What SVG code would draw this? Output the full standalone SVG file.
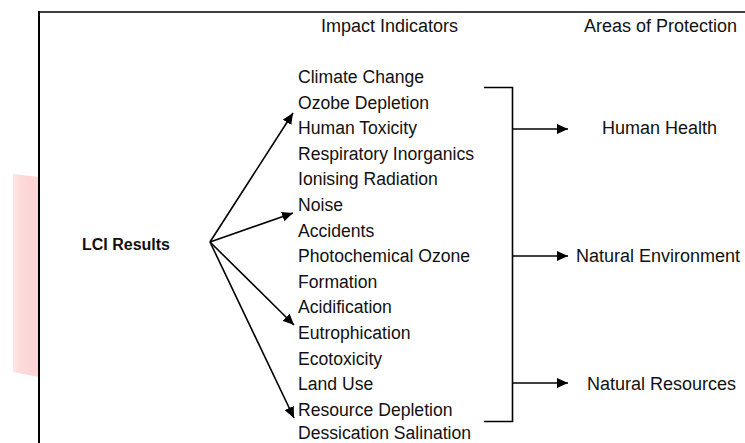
<svg xmlns="http://www.w3.org/2000/svg" width="745" height="443" viewBox="0 0 745 443">
  <style>
    .t { font-family: "Liberation Sans", Arial, sans-serif; font-size: 17.6px; fill: #111; }
    .h { font-size: 18px; }
    .b { font-weight: bold; font-size: 16px; }
    .ln { stroke: #000; stroke-width: 1.6; fill: none; }
    .ar { stroke: #000; stroke-width: 1.6; fill: none; marker-end: url(#ah); }
  </style>
  <defs>
    <marker id="ah" markerUnits="userSpaceOnUse" markerWidth="12" markerHeight="10" refX="11" refY="5" orient="auto">
      <path d="M0,0 L11,5 L0,10 z" fill="#000"/>
    </marker>
    <linearGradient id="pink" x1="0" y1="0" x2="1" y2="0">
      <stop offset="0" stop-color="#fde6e6"/>
      <stop offset="0.3" stop-color="#fdd9d9"/>
      <stop offset="1" stop-color="#fdd5d5"/>
    </linearGradient>
  </defs>

  <rect width="745" height="443" fill="#fff"/>
  <polygon points="13,174 39,177 39,377 13,372" fill="url(#pink)"/>

  <g id="frame">
    <line x1="39" y1="12" x2="745" y2="12" stroke="#000" stroke-width="1.6"/>
    <line x1="39" y1="11" x2="39" y2="443" stroke="#000" stroke-width="2"/>
  </g>

  <g id="header-impact"><text class="t h" x="321" y="32">Impact Indicators</text></g>
  <g id="header-areas"><text class="t h" x="584" y="32">Areas of Protection</text></g>

  <g id="lci-results"><text class="t b" x="82" y="250">LCI Results</text></g>

  <g id="impact-indicators">
    <text class="t" x="298" y="83">Climate Change</text>
    <text class="t" x="298" y="108.6">Ozobe Depletion</text>
    <text class="t" x="298" y="134.2">Human Toxicity</text>
    <text class="t" x="298" y="159.8">Respiratory Inorganics</text>
    <text class="t" x="298" y="185.4">Ionising Radiation</text>
    <text class="t" x="298" y="211">Noise</text>
    <text class="t" x="298" y="236.6">Accidents</text>
    <text class="t" x="298" y="262.2">Photochemical Ozone</text>
    <text class="t" x="298" y="287.8">Formation</text>
    <text class="t" x="298" y="313.4">Acidification</text>
    <text class="t" x="298" y="339">Eutrophication</text>
    <text class="t" x="298" y="364.6">Ecotoxicity</text>
    <text class="t" x="298" y="390.2">Land Use</text>
    <text class="t" x="298" y="415.8">Resource Depletion</text>
    <text class="t" x="298" y="438.5">Dessication Salination</text>
  </g>

  <g id="human-health"><text class="t h" x="602" y="134">Human Health</text></g>
  <g id="natural-environment"><text class="t h" x="576" y="262">Natural Environment</text></g>
  <g id="natural-resources"><text class="t h" x="587" y="390">Natural Resources</text></g>

  <g id="connectors">
    <line class="ar" x1="210" y1="242" x2="293" y2="113"/>
    <line class="ar" x1="210" y1="242" x2="293" y2="213"/>
    <line class="ar" x1="210" y1="242" x2="294" y2="325"/>
    <line class="ar" x1="210" y1="242" x2="294" y2="418"/>
    <polyline class="ln" points="484,87.5 512.5,87.5 512.5,421.5 484,421.5"/>
    <line class="ar" x1="512.5" y1="129" x2="568" y2="129"/>
    <line class="ar" x1="512.5" y1="256" x2="568" y2="256"/>
    <line class="ar" x1="512.5" y1="383" x2="568" y2="383"/>
  </g>
</svg>
